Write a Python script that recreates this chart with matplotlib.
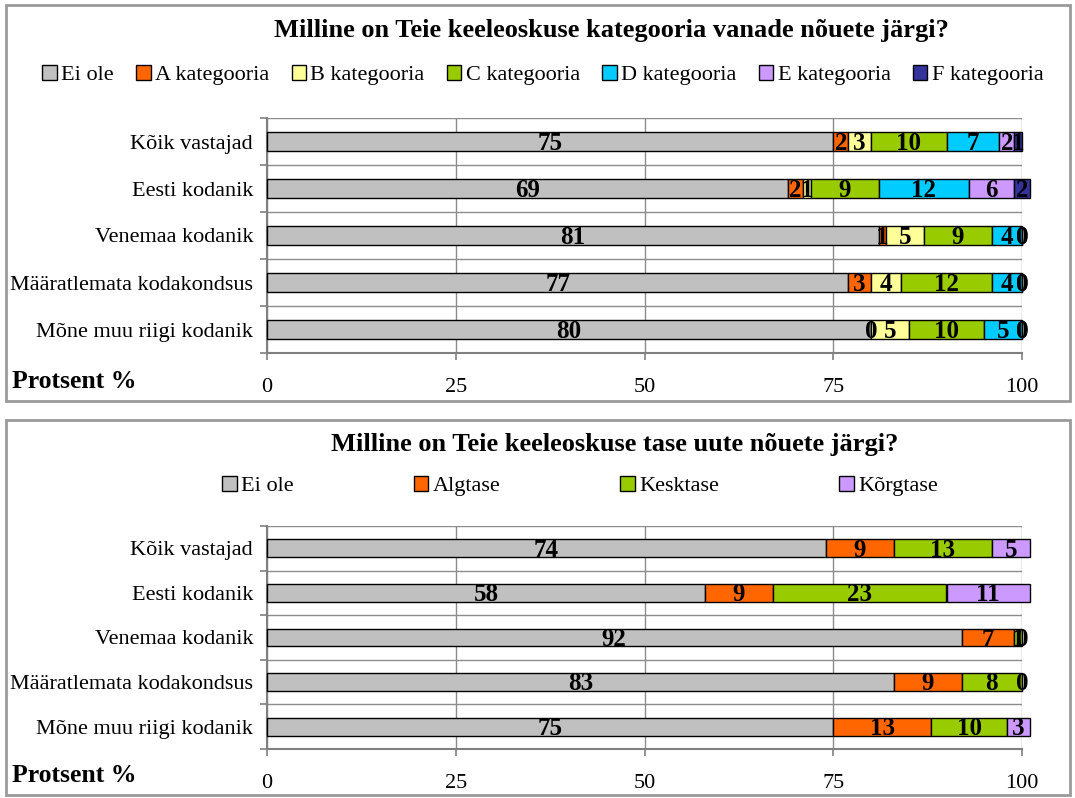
import matplotlib
matplotlib.use("Agg")
import matplotlib.pyplot as plt
import matplotlib.patches as mpatches
import numpy as np

plt.rcParams["font.family"] = ["Liberation Serif", "DejaVu Serif"]

W, H = 1075, 798

# ---------------------------------------------------------------------------
# Data
# ---------------------------------------------------------------------------
groups = ["Kõik vastajad", "Eesti kodanik", "Venemaa kodanik",
          "Määratlemata kodakondsus", "Mõne muu riigi kodanik"]

title_old = "Milline on Teie keeleoskuse kategooria vanade nõuete järgi?"
series_old = ["Ei ole", "A kategooria", "B kategooria", "C kategooria",
              "D kategooria", "E kategooria", "F kategooria"]
ei_ole_old = [75, 69, 81, 77, 80]
a_kat      = [2, 2, 1, 3, 0]
b_kat      = [3, 1, 5, 4, 5]
c_kat      = [10, 9, 9, 12, 10]
d_kat      = [7, 12, 4, 4, 5]
e_kat      = [2, 6, 0, 0, 0]
f_kat      = [1, 2, 0, 0, 0]
colors_old = ["#C0C0C0", "#FF6600", "#FFFF99", "#99CC00",
              "#00CCFF", "#CC99FF", "#333399"]

title_new = "Milline on Teie keeleoskuse tase uute nõuete järgi?"
series_new = ["Ei ole", "Algtase", "Kesktase", "Kõrgtase"]
ei_ole_new = [74, 58, 92, 83, 75]
algtase    = [9, 9, 7, 9, 13]
kesktase   = [13, 23, 1, 8, 10]
korgtase   = [5, 11, 0, 0, 3]
colors_new = ["#C0C0C0", "#FF6600", "#99CC00", "#CC99FF"]

xticks = [0, 25, 50, 75, 100]
xlabel = "Protsent %"

FS = 16     # normal text
FS_BAR = 18  # bar value labels


def px(x, y):
    """pixel coords (top-left origin) -> figure fraction"""
    return x / W, 1 - y / H


def panel_box(fig, y0, y1):
    rect = mpatches.Rectangle(px(6, y1), (1070 - 6) / W, (y1 - y0) / H,
                              transform=fig.transFigure, fill=False,
                              edgecolor="#9A9A9A", linewidth=2.0)
    fig.patches.append(rect)


def stacked(ax, values, names, colors):
    y = np.arange(len(groups))
    left = np.zeros(len(groups))
    handles = []
    for vals, name, col in zip(values, names, colors):
        vals = np.array(vals, dtype=float)
        bars = ax.barh(y, vals, left=left, height=0.4, color=col,
                       edgecolor="black", linewidth=1.0, label=name, zorder=3)
        for b in bars:
            b.set_clip_on(False)
        handles.append(bars)
        for yi, l, v in zip(y, left, vals):
            ax.text(l + v / 2, yi + 0.04, f"{int(v)}", ha="center", va="center",
                    fontsize=FS_BAR, fontweight="bold", color="black", zorder=4)
        left += vals

    ax.set_xlim(0, 100)
    ax.set_ylim(len(groups) - 0.5, -0.5)
    ax.set_yticks(y)
    ax.set_yticklabels(groups, fontsize=FS)
    ax.set_yticks(np.arange(len(groups) + 1) - 0.5, minor=True)
    ax.tick_params(axis="y", which="major", length=0, pad=10)
    ax.tick_params(axis="y", which="minor", length=5, color="#808080", width=1.2)
    ax.set_xticks(xticks)
    ax.set_xticklabels([str(t) for t in xticks], fontsize=FS)
    ax.tick_params(axis="x", length=5, color="#808080", width=1.2, pad=13)
    ax.grid(axis="x", color="#8C8C8C", linewidth=1.0, zorder=0)
    ax.grid(axis="y", which="minor", color="#8C8C8C", linewidth=1.0, zorder=0)
    for s in ("top", "right"):
        ax.spines[s].set_visible(False)
    for s in ("left", "bottom"):
        ax.spines[s].set_color("#808080")
        ax.spines[s].set_linewidth(1.5)
    return handles


fig = plt.figure(figsize=(W / 100, H / 100), dpi=100)

# ---------------------------------------------------------------------------
# Panel 1 : old requirements
# ---------------------------------------------------------------------------
panel_box(fig, 5, 401)
ax1 = fig.add_axes([267 / W, 1 - 353 / H, (1022 - 267) / W, (353 - 118) / H])
h1 = stacked(ax1, [ei_ole_old, a_kat, b_kat, c_kat, d_kat, e_kat, f_kat],
             series_old, colors_old)
fig.text(*px(611, 30), title_old, ha="center", va="center",
         fontsize=19, fontweight="bold")
fig.legend(handles=h1, labels=series_old, loc="center",
           bbox_to_anchor=px(543, 75), ncol=7, frameon=False, fontsize=FS,
           handlelength=0.65, handleheight=0.65, handletextpad=0.2,
           columnspacing=1.0, borderaxespad=0)
fig.text(*px(12, 381), xlabel, ha="left", va="center",
         fontsize=18.5, fontweight="bold")

# ---------------------------------------------------------------------------
# Panel 2 : new requirements
# ---------------------------------------------------------------------------
panel_box(fig, 420, 795)
ax2 = fig.add_axes([267 / W, 1 - 749 / H, (1022 - 267) / W, (749 - 526) / H])
h2 = stacked(ax2, [ei_ole_new, algtase, kesktase, korgtase],
             series_new, colors_new)
fig.text(*px(615, 444), title_new, ha="center", va="center",
         fontsize=19, fontweight="bold")
fig.legend(handles=h2, labels=series_new, loc="center",
           bbox_to_anchor=px(580, 486), ncol=4, frameon=False, fontsize=FS,
           handlelength=0.65, handleheight=0.65, handletextpad=0.2,
           columnspacing=5.4, borderaxespad=0)
fig.text(*px(12, 776), xlabel, ha="left", va="center",
         fontsize=18.5, fontweight="bold")

fig.savefig("out.png", dpi=100)
